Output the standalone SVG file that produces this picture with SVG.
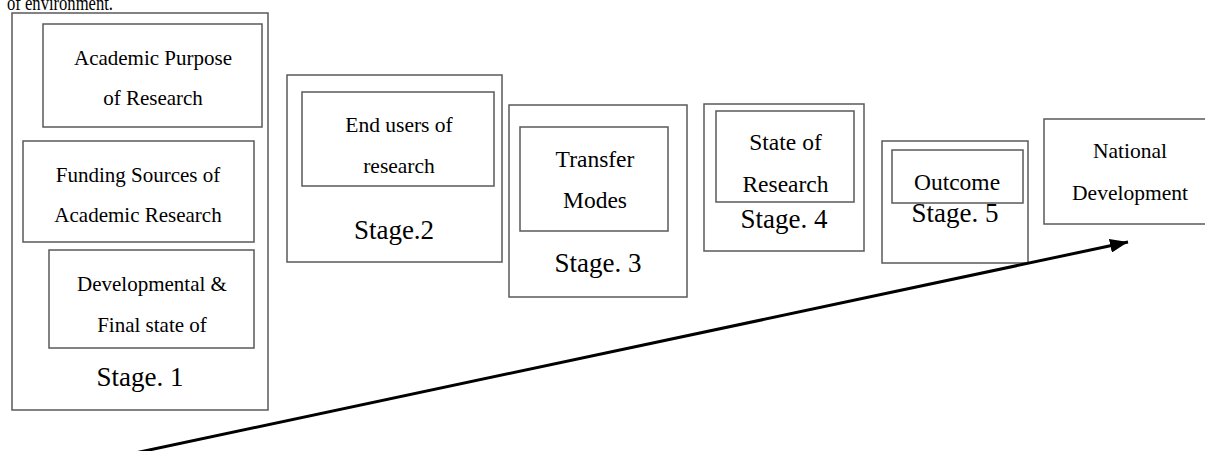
<svg xmlns="http://www.w3.org/2000/svg" width="1205" height="451" viewBox="0 0 1205 451">
<style>
  .box { fill: #ffffff; stroke: #5a5a5a; stroke-width: 1.5; }
  text { font-family: 'Liberation Serif', 'DejaVu Serif', serif; fill: #000000; text-anchor: middle; }
  .s1 { font-size: 21px; }
  .s2 { font-size: 21.5px; }
  .s3 { font-size: 23.5px; }
  .stage { font-size: 27px; }
  .conn { stroke: #000000; stroke-width: 3; fill: none; }
</style>
<defs>
  <marker id="arrow" viewBox="0 0 18 14" refX="18" refY="7" markerWidth="18" markerHeight="14" markerUnits="userSpaceOnUse" orient="auto">
    <path d="M0,0 L18,7 L0,14 z" fill="#000000"/>
  </marker>
</defs>
<rect width="1205" height="451" fill="#ffffff"/>
<g font-family="Liberation Serif, serif">
<text x="7" y="10" font-size="20" style="text-anchor:start" textLength="106" lengthAdjust="spacingAndGlyphs">of environment.</text>

<g id="stage1">
  <rect class="box" x="12" y="13" width="256" height="397"/>
  <g id="academic-purpose">
    <rect class="box" x="43" y="24" width="219" height="103"/>
    <text class="s1" x="153" y="65">Academic Purpose</text>
    <text class="s1" x="153" y="105">of Research</text>
  </g>
  <g id="funding-sources">
    <rect class="box" x="23" y="141" width="231" height="101"/>
    <text class="s1" x="138" y="182">Funding Sources of</text>
    <text class="s1" x="138" y="222">Academic Research</text>
  </g>
  <g id="developmental">
    <rect class="box" x="49" y="250" width="205" height="98"/>
    <text class="s1" x="152" y="291">Developmental &amp;</text>
    <text class="s1" x="152" y="332">Final state of</text>
  </g>
  <text class="stage" x="140" y="386">Stage. 1</text>
</g>

<g id="stage2">
  <rect class="box" x="287" y="75" width="215" height="187"/>
  <g id="end-users">
    <rect class="box" x="302" y="92" width="192" height="94"/>
    <text class="s2" x="399" y="132">End users of</text>
    <text class="s2" x="399" y="173">research</text>
  </g>
  <text class="stage" x="394" y="239">Stage.2</text>
</g>

<g id="stage3">
  <rect class="box" x="509" y="105" width="178" height="192"/>
  <g id="transfer-modes">
    <rect class="box" x="520" y="127" width="148" height="104"/>
    <text class="s3" x="595" y="167">Transfer</text>
    <text class="s3" x="595" y="208">Modes</text>
  </g>
  <text class="stage" x="598" y="272">Stage. 3</text>
</g>

<g id="stage4">
  <rect class="box" x="704" y="104" width="160" height="147"/>
  <g id="state-of-research">
    <rect class="box" x="716" y="111" width="138" height="91"/>
    <text class="s3" x="785.5" y="150">State of</text>
    <text class="s3" x="785.5" y="192">Research</text>
  </g>
  <text class="stage" x="784" y="228">Stage. 4</text>
</g>

<g id="stage5">
  <rect class="box" x="882" y="141" width="146" height="122"/>
  <g id="outcome">
    <rect class="box" x="892" y="150" width="131" height="53"/>
    <text class="s3" x="957" y="190">Outcome</text>
  </g>
  <text class="stage" x="955" y="222">Stage. 5</text>
</g>

<g id="national-development">
  <rect class="box" x="1044" y="119" width="166" height="105"/>
  <text class="s2" x="1130" y="158">National</text>
  <text class="s2" x="1130" y="200">Development</text>
</g>
</g>

<g id="connectors">
  <line class="conn" x1="135" y1="453" x2="1128" y2="242" marker-end="url(#arrow)"/>
</g>
</svg>
